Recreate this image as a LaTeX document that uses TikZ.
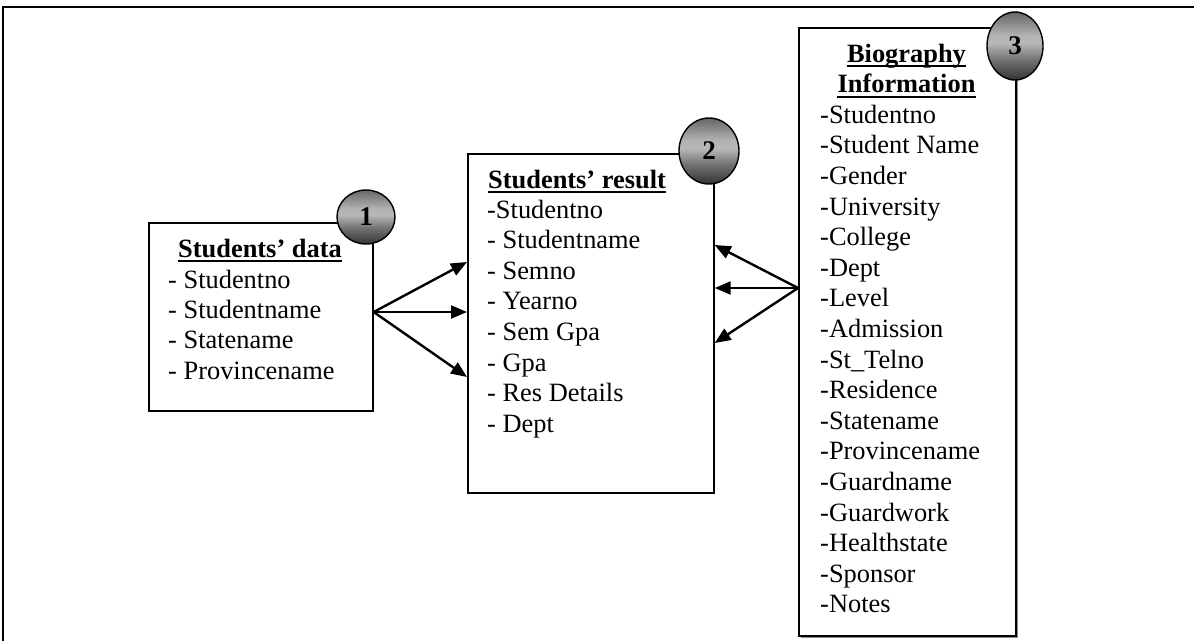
\documentclass[tikz,border=0pt]{standalone}
\usepackage{fontspec}
\setmainfont{Liberation Serif}
\usetikzlibrary{shapes.geometric,arrows.meta,calc}
\pgfdeclareverticalshading{badgeshade}{100bp}{%
  color(0bp)=(black!80); color(25bp)=(black!80);
  color(40bp)=(black!55); color(52bp)=(black!28); color(58bp)=(black!30);
  color(75bp)=(black!60); color(100bp)=(black!60)}
\begin{document}
\begin{tikzpicture}[x=1pt,y=-1pt,
  box/.style={draw=black,fill=white,line width=1.7pt,rectangle,inner sep=0pt,anchor=north west},
  item/.style={anchor=base west,inner sep=0pt,font=\fontsize{26.4}{30.6}\selectfont},
  ttl/.style={anchor=base,inner sep=0pt,font=\fontsize{26.4}{30.6}\selectfont\bfseries},
  ttlw/.style={anchor=base west,inner sep=0pt,font=\fontsize{26.4}{30.6}\selectfont\bfseries},
  uline/.style={line width=1.8pt},
  badge/.style={ellipse,draw=black,line width=1.4pt,shading=badgeshade,inner sep=0pt,font=\fontsize{27}{30.6}\selectfont\bfseries},
  link/.style={line width=2.4pt,-{Triangle[length=16pt,width=13pt]}},
  frame/.style={line width=2.5pt,line join=miter}]

\useasboundingbox (0,0) rectangle (1194,641);

% outer frame (left and top sides only)
\draw[frame] (3,641) -- (3,7) -- (1194,7);

% box 1
\node[box,minimum width=224pt,minimum height=188pt] (b1) at (148,222) {};
\node[ttl] (t1) at (260,257) {Students’ data};
\draw[uline] ($(t1.base west)+(0,4)$) -- ($(t1.base east)+(0,4)$);
\foreach \t [count=\i from 0] in {- Studentno,- Studentname,- Statename,- Provincename}
  \node[item] (a\i) at (168,288+30.4*\i) {\t};

% box 2
\node[box,minimum width=246pt,minimum height=339pt] (b2) at (467,153) {};
\node[ttlw] (t2) at (488,188) {Students’ result};
\draw[uline] ($(t2.base west)+(0,4)$) -- ($(t2.base east)+(0,4)$);
\foreach \t [count=\i from 0] in {-Studentno,- Studentname,- Semno,- Yearno,- Sem Gpa,- Gpa,- Res Details,- Dept}
  \node[item] (r\i) at (487,218+30.6*\i) {\t};

% box 3 with shadow
\fill[black!45] (800.5,29.5) rectangle (1017.5,637.5);
\node[box,minimum width=217pt,minimum height=608pt] (b3) at (798,27) {};
\node[ttl] (t3a) at (906.5,62) {Biography};
\draw[uline] ($(t3a.base west)+(0,4)$) -- ($(t3a.base east)+(0,4)$);
\node[ttl] (t3b) at (906.5,92.6) {Information};
\draw[uline] ($(t3b.base west)+(0,4)$) -- ($(t3b.base east)+(0,4)$);
\foreach \t [count=\i from 0] in {-Studentno,-Student Name,-Gender,-University,-College,-Dept,-Level,-Admission,-St\_Telno,-Residence,-Statename,-Provincename,-Guardname,-Guardwork,-Healthstate,-Sponsor,-Notes}
  \node[item] (g\i) at (820,123.2+30.6*\i) {\t};

% badges
\node[badge,minimum width=58pt,minimum height=54pt] (c1) at (366,217) {1};
\node[badge,minimum width=60pt,minimum height=66pt] (c2) at (709,151) {2};
\node[badge,minimum width=56pt,minimum height=68pt] (c3) at (1015,46) {3};

% connectors
\coordinate (s1) at ($(b1.north east)+(0,90)$);
\coordinate (p1) at ($(b2.north west)+(0,109)$);
\coordinate (p2) at ($(b2.north west)+(0,159)$);
\coordinate (p3) at ($(b2.north west)+(0,224)$);
\draw[link] (s1) -- (p1);
\draw[link] (s1) -- (p2);
\draw[link] (s1) -- (p3);

\coordinate (s2) at ($(b3.north west)+(0,261)$);
\coordinate (q1) at ($(b2.north east)+(0,92)$);
\coordinate (q2) at ($(b2.north east)+(0,135)$);
\coordinate (q3) at ($(b2.north east)+(0,190)$);
\draw[link] (s2) -- (q1);
\draw[link] (s2) -- (q2);
\draw[link] (s2) -- (q3);
\end{tikzpicture}
\end{document}
